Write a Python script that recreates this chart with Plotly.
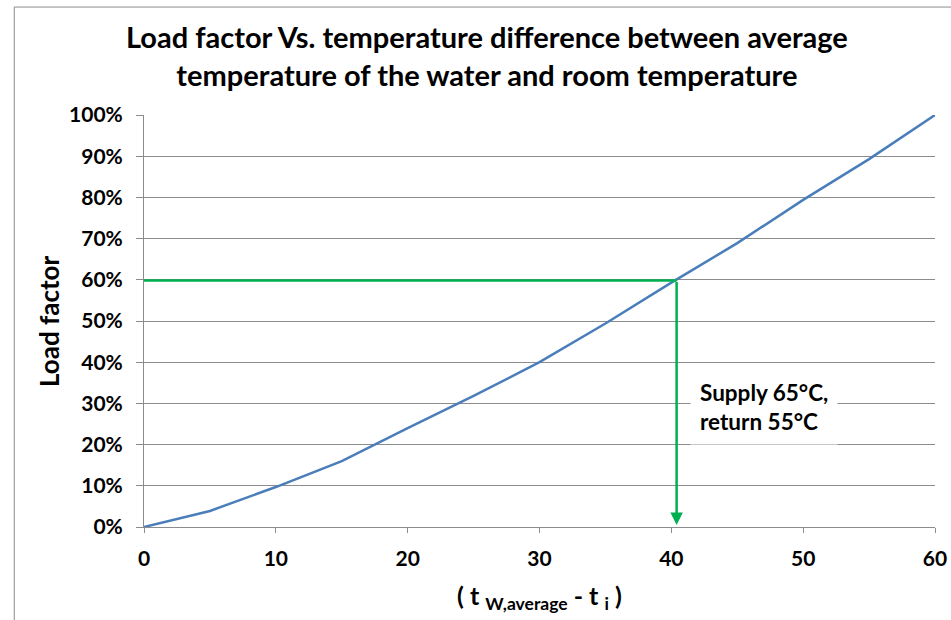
import plotly.graph_objects as go

dt = [0, 5, 10, 15, 20, 25, 30, 35, 40, 45, 50, 55, 60]
load = [0, 0.039, 0.097, 0.16, 0.24, 0.318, 0.40, 0.494, 0.593, 0.689, 0.794, 0.893, 1.0]

op_dt = 40.4
op_load = 0.598
marker_x = [0, op_dt]
marker_y = [op_load, op_load]

xticks = [0, 10, 20, 30, 40, 50, 60]
yticks = [0, 0.1, 0.2, 0.3, 0.4, 0.5, 0.6, 0.7, 0.8, 0.9, 1.0]
ytext = [f"{int(round(v*100))}%" for v in yticks]

FONT = "Lato"
GRID = "#8c8c8c"

fig = go.Figure()
fig.add_trace(go.Scatter(x=dt, y=load, mode="lines",
                         line=dict(color="#4A7EBB", width=2.5), showlegend=False))
fig.add_trace(go.Scatter(x=marker_x, y=marker_y, mode="lines",
                         line=dict(color="#00B050", width=2.5), showlegend=False))

# vertical arrow down
fig.add_annotation(x=op_dt, y=0.005, ax=op_dt, ay=op_load, xref="x", yref="y",
                   axref="x", ayref="y", showarrow=True, arrowhead=2, arrowsize=1,
                   arrowwidth=2.5, arrowcolor="#00B050", text="")

fig.add_annotation(x=41.4, y=0.292, xref="x", yref="y", xanchor="left", yanchor="middle",
                   text="Supply 65°C,<br>return 55°C", showarrow=False, align="left",
                   font=dict(family=FONT, size=22.5, color="black", weight="bold"),
                   bgcolor="white", borderpad=9)

# axis titles
fig.add_annotation(x=-0.120, y=0.5, xref="paper", yref="paper", xanchor="center", yanchor="middle",
                   text="Load factor", textangle=-90, showarrow=False,
                   font=dict(family=FONT, size=26, color="black", weight="bold"))
fig.add_annotation(x=0.5, y=-0.170, xref="paper", yref="paper", xanchor="center", yanchor="middle",
                   text="( t <sub>W,average</sub> - t <sub>i</sub> )", showarrow=False,
                   font=dict(family=FONT, size=25, color="black", weight="bold"))

# outer chart border
fig.add_shape(type="rect", xref="paper", yref="paper", x0=-0.164, x1=1.05,
              y0=-0.4, y1=1.262, line=dict(color="#8c8c8c", width=1), fillcolor="rgba(0,0,0,0)")

fig.update_layout(
    width=951, height=620,
    margin=dict(l=144, r=16, t=115, b=93, autoexpand=False),
    paper_bgcolor="white", plot_bgcolor="white",
    title=dict(text="Load factor Vs. temperature difference between average<br>temperature of the water and room temperature",
               x=0.512, xanchor="center", y=0.922, yanchor="middle",
               font=dict(family=FONT, size=29, color="black", weight="bold")),
    font=dict(family=FONT, color="black"),
)
fig.update_xaxes(range=[0, 60], tickvals=xticks, ticks="outside", ticklen=5, tickcolor=GRID,
                 showline=True, linecolor=GRID, linewidth=1, showgrid=False, zeroline=False,
                 ticklabelstandoff=8, automargin=False,
                 tickfont=dict(family=FONT, size=21, weight="bold"))
fig.update_yaxes(range=[0, 1.0], tickvals=yticks, ticktext=ytext, ticks="outside", ticklen=7,
                 tickcolor=GRID, showline=True, linecolor=GRID, linewidth=1,
                 showgrid=True, gridcolor=GRID, gridwidth=1, zeroline=False,
                 ticklabelstandoff=9, automargin=False,
                 tickfont=dict(family=FONT, size=21, weight="bold"))

fig.write_html("out.html", config={"displayModeBar": False},
               post_script="document.body.style.margin='0';")
